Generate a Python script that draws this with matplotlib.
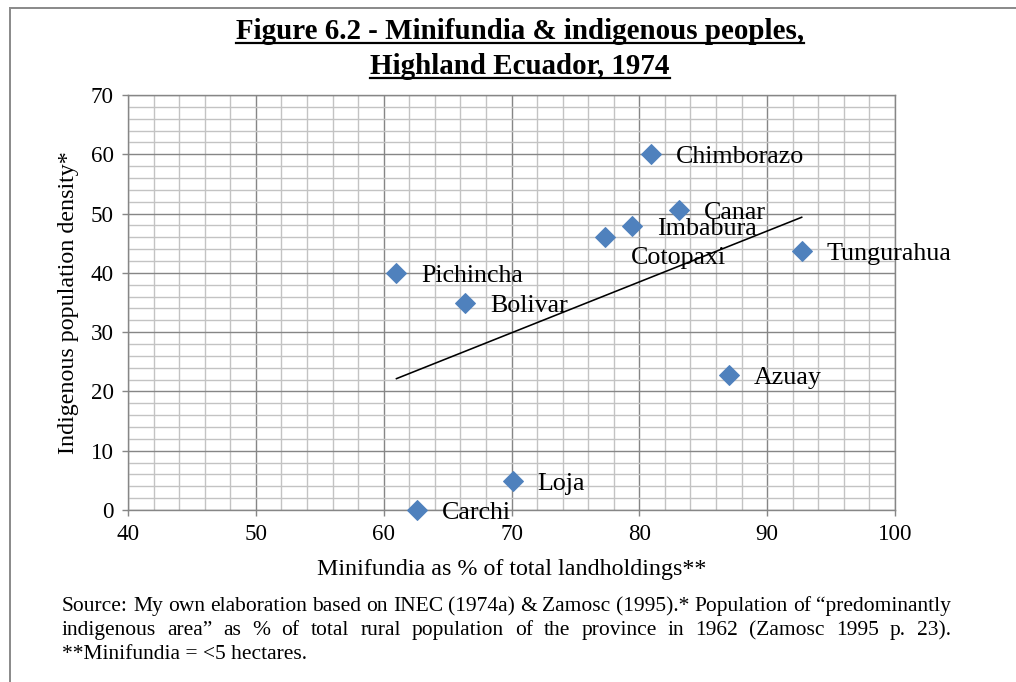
import numpy as np
import matplotlib
matplotlib.use("Agg")
import matplotlib.pyplot as plt
from matplotlib.ticker import MultipleLocator
from matplotlib.lines import Line2D

# ---- data ----
provinces = ["Chimborazo", "Canar", "Imbabura", "Cotopaxi", "Tungurahua",
             "Pichincha", "Bolivar", "Azuay", "Loja", "Carchi"]
minifundia = [80.9, 83.1, 79.4, 77.3, 92.7, 61.0, 66.4, 87.0, 70.1, 62.6]
indigenous = [60.0, 50.6, 47.9, 46.0, 43.7, 40.0, 34.9, 22.8, 4.9, 0.0]
x_ticks = [40, 50, 60, 70, 80, 90, 100]
y_ticks = [0, 10, 20, 30, 40, 50, 60, 70]

title_lines = ["Figure 6.2 - Minifundia & indigenous peoples,",
               "Highland Ecuador, 1974"]
x_label = "Minifundia as % of total landholdings**"
y_label = "Indigenous population density*"
source_lines = [
    "Source: My own elaboration based on INEC (1974a) & Zamosc (1995).* Population of \u201cpredominantly",
    "indigenous area\u201d as % of total rural population of the province in 1962 (Zamosc 1995 p. 23).",
    "**Minifundia = <5 hectares.",
]

# label offsets (pixels), style only
label_offsets = {p: (25, -3) for p in provinces}
label_offsets["Cotopaxi"] = (26, -21)

DPI = 72
W, H = 1016, 682
FONT = "Liberation Serif"
BLUE = "#4F81BD"
MAJ = "#868686"
MIN = "#c3c3c3"

fig = plt.figure(figsize=(W / DPI, H / DPI), dpi=DPI)
fig.patch.set_facecolor("white")

def fx(px):
    return px / W

def fy(py):
    return 1 - py / H

# outer frame (cropped on right and bottom)
fig.add_artist(Line2D([fx(10), fx(10)], [fy(8), fy(H + 5)], color="#8c8c8c", lw=2,
                      transform=fig.transFigure))
fig.add_artist(Line2D([fx(10), fx(W + 5)], [fy(8), fy(8)], color="#8c8c8c", lw=2,
                      transform=fig.transFigure))

left, right, top, bottom = 128, 895, 95, 510
ax = fig.add_axes([fx(left), fy(bottom), fx(right - left), (bottom - top) / H])
ax.set_xlim(40, 100)
ax.set_ylim(0, 70)
ax.xaxis.set_minor_locator(MultipleLocator(2))
ax.yaxis.set_minor_locator(MultipleLocator(2))
ax.set_xticks(x_ticks)
ax.set_yticks(y_ticks)
ax.grid(which="minor", color=MIN, lw=1.4, zorder=0)
ax.grid(which="major", color=MAJ, lw=1.4, zorder=0)
ax.set_axisbelow(True)
for s in ax.spines.values():
    s.set_color(MAJ)
    s.set_linewidth(1.4)
ax.tick_params(which="major", length=6, width=1.4, color=MAJ, labelsize=23,
               pad=8)
ax.tick_params(which="minor", length=0)
for lab in ax.get_xticklabels() + ax.get_yticklabels():
    lab.set_fontfamily(FONT)

# trend line (least squares)
slope, intercept = np.polyfit(minifundia, indigenous, 1)
xs = np.array([min(minifundia), max(minifundia)])
ax.plot(xs, slope * xs + intercept, color="black", lw=1.6, zorder=3)

ax.plot(minifundia, indigenous, linestyle="none", marker="D", ms=13.5,
        color=BLUE, markeredgecolor=BLUE, zorder=4, clip_on=False)

for p, xv, yv in zip(provinces, minifundia, indigenous):
    dx, dy = label_offsets[p]
    ax.annotate(p, (xv, yv), xytext=(dx, dy), textcoords="offset points",
                ha="left", va="center", fontsize=26, fontfamily=FONT,
                zorder=5, annotation_clip=False)

ax.set_xlabel(x_label, fontsize=24, fontfamily=FONT, labelpad=14)
ax.set_ylabel(y_label, fontsize=24, fontfamily=FONT, labelpad=12)

# title with underline
renderer = fig.canvas.get_renderer()
title_baselines = [39, 74]
for line, yb in zip(title_lines, title_baselines):
    t = fig.text(fx(520), fy(yb), line, ha="center", va="baseline",
                 fontsize=29, fontweight="bold", fontfamily=FONT)
    bb = t.get_window_extent(renderer)
    fig.add_artist(Line2D([bb.x0 / W, bb.x1 / W], [fy(yb + 4)] * 2,
                          color="black", lw=2.2, transform=fig.transFigure))

# source note: first line fills the width naturally, second line justified
x0, x1 = 62, 951
probe = fig.text(0, 0, source_lines[0], fontsize=20, fontfamily=FONT)
nat = probe.get_window_extent(renderer).width
probe.remove()
src_size = 20 * (x1 - x0) / nat

src_baselines = [611, 635, 659]
for i, (line, yb) in enumerate(zip(source_lines, src_baselines)):
    if i == len(source_lines) - 1:
        fig.text(fx(x0), fy(yb), line, ha="left", va="baseline",
                 fontsize=src_size, fontfamily=FONT)
        continue
    words = line.split(" ")
    texts = [fig.text(0, fy(yb), w, ha="left", va="baseline", fontsize=src_size,
                      fontfamily=FONT) for w in words]
    widths = [t.get_window_extent(renderer).width for t in texts]
    gap = (x1 - x0 - sum(widths)) / (len(words) - 1)
    pos = x0
    for t, wd in zip(texts, widths):
        t.set_x(fx(pos))
        pos += wd + gap

fig.savefig("out.png", dpi=DPI, facecolor="white")
